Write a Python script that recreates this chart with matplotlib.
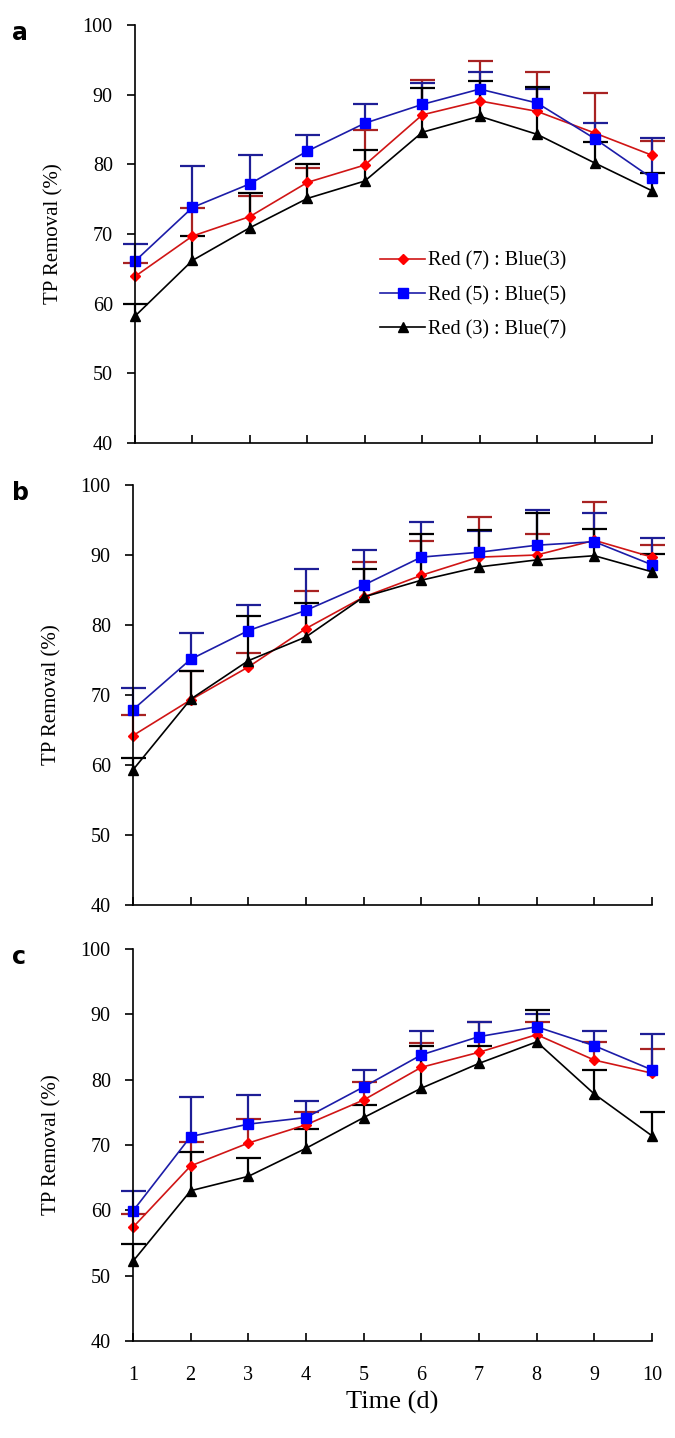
import numpy as np
import matplotlib
matplotlib.use('Agg')
import matplotlib.pyplot as plt

plt.rcParams['font.family'] = ['Liberation Serif', 'DejaVu Serif']

# days
days = [1, 2, 3, 4, 5, 6, 7, 8, 9, 10]
labels = ['Red (7) : Blue(3)', 'Red (5) : Blue(5)', 'Red (3) : Blue(7)']

# panel a - mean and upper error
a_red = [63.9, 69.7, 72.5, 77.4, 79.9, 87.1, 89.1, 87.6, 84.5, 81.3]
a_red_err = [2.0, 4.0, 3.0, 2.0, 5.0, 5.0, 5.7, 5.6, 5.7, 2.0]
a_blue = [66.1, 73.8, 77.2, 81.9, 85.9, 88.6, 90.8, 88.8, 83.7, 78.0]
a_blue_err = [2.5, 6.0, 4.1, 2.3, 2.8, 3.1, 2.4, 2.0, 2.2, 5.8]
a_black = [58.2, 66.2, 70.9, 75.1, 77.6, 84.6, 86.9, 84.3, 80.2, 76.2]
a_black_err = [1.8, 3.5, 5.0, 4.9, 4.4, 6.4, 5.0, 6.8, 3.0, 2.6]

# panel b
b_red = [64.2, 69.3, 74.0, 79.5, 84.0, 87.1, 89.7, 90.0, 92.1, 89.7]
b_red_err = [2.9, 4.1, 2.0, 5.4, 5.0, 4.9, 5.7, 3.0, 5.5, 1.8]
b_blue = [67.9, 75.1, 79.2, 82.1, 85.7, 89.7, 90.4, 91.4, 91.9, 88.6]
b_blue_err = [3.1, 3.8, 3.6, 5.9, 5.0, 5.0, 3.0, 5.0, 4.1, 3.9]
b_black = [59.3, 69.4, 74.9, 78.3, 84.0, 86.4, 88.3, 89.3, 89.9, 87.6]
b_black_err = [1.7, 4.0, 6.4, 4.9, 4.0, 6.6, 5.3, 6.7, 3.8, 2.6]

# panel c
c_red = [57.4, 66.8, 70.3, 73.1, 76.9, 81.9, 84.2, 86.9, 83.0, 81.0]
c_red_err = [2.0, 3.7, 3.7, 2.0, 2.8, 3.7, 4.6, 2.0, 2.8, 3.7]
c_blue = [59.9, 71.3, 73.2, 74.2, 78.9, 83.8, 86.6, 88.1, 85.2, 81.5]
c_blue_err = [3.1, 6.0, 4.4, 2.5, 2.6, 3.6, 2.2, 2.0, 2.2, 5.5]
c_black = [52.2, 63.0, 65.2, 69.5, 74.2, 78.7, 82.5, 85.8, 77.8, 71.4]
c_black_err = [2.6, 5.9, 2.8, 3.0, 2.0, 6.4, 2.7, 4.9, 3.7, 3.7]

panels = [
    ('a', [(a_red, a_red_err), (a_blue, a_blue_err), (a_black, a_black_err)]),
    ('b', [(b_red, b_red_err), (b_blue, b_blue_err), (b_black, b_black_err)]),
    ('c', [(c_red, c_red_err), (c_blue, c_blue_err), (c_black, c_black_err)]),
]
# line colour, marker colour, error bar colour, marker, size
styles = [('#d01515', '#ff0000', '#a82222', 'D', 5.5),
          ('#1c1ca8', '#0000ff', '#1e1e96', 's', 7),
          ('#000000', '#000000', '#000000', '^', 7)]

# axes boxes [left, bottom, width, height] in figure fraction
boxes = [
    [0.200, 0.692, 0.766, 0.2906],
    [0.197, 0.3707, 0.769, 0.292],
    [0.197, 0.0675, 0.769, 0.2725],
]

fig = plt.figure(figsize=(6.75, 14.38), dpi=100)

for i, (letter, series) in enumerate(panels):
    ax = fig.add_axes(boxes[i])
    handles = []
    for (vals, err), lab, (lc, mc, ec, mk, ms) in zip(series, labels, styles):
        cont = ax.errorbar(days, vals, yerr=[np.zeros(len(err)), err], color=lc,
                           ecolor=ec, mfc=mc, mec=mc, marker=mk, markersize=ms,
                           linewidth=1.2, elinewidth=1.6, capsize=9, capthick=1.6,
                           label=lab, clip_on=False)
        # only upper caps are shown
        cont[1][0].set_visible(False)
        handles.append(cont[0])
    ax.set_xlim(1, 10)
    ax.set_ylim(40, 100)
    ax.set_yticks([40, 50, 60, 70, 80, 90, 100])
    ax.set_xticks(days)
    ax.spines['top'].set_visible(False)
    ax.spines['right'].set_visible(False)
    ax.spines['left'].set_linewidth(1.2)
    ax.spines['bottom'].set_linewidth(1.2)
    ax.tick_params(axis='y', direction='out', length=6, width=1.2, labelsize=14.5, pad=10)
    ax.tick_params(axis='x', direction='in', length=6, width=1.2, labelsize=14.5, pad=18)
    ax.set_ylabel('TP Removal (%)', fontsize=15, labelpad=14)
    if letter != 'c':
        ax.set_xticklabels([])
    else:
        ax.set_xlabel('Time (d)', fontsize=19, labelpad=4)
    if letter == 'a':
        ax.legend(handles=handles, labels=labels, loc='upper left',
                  bbox_to_anchor=(0.474, 0.458), frameon=False,
                  fontsize=14.5, handlelength=2.25, handletextpad=0.15,
                  labelspacing=0.75, borderaxespad=0, borderpad=0)
    fig.text(0.018, boxes[i][1] + boxes[i][3] + 0.003, letter, fontsize=17,
             fontweight='bold', family='DejaVu Sans', va='top', ha='left')

fig.savefig('out.png', dpi=100)
